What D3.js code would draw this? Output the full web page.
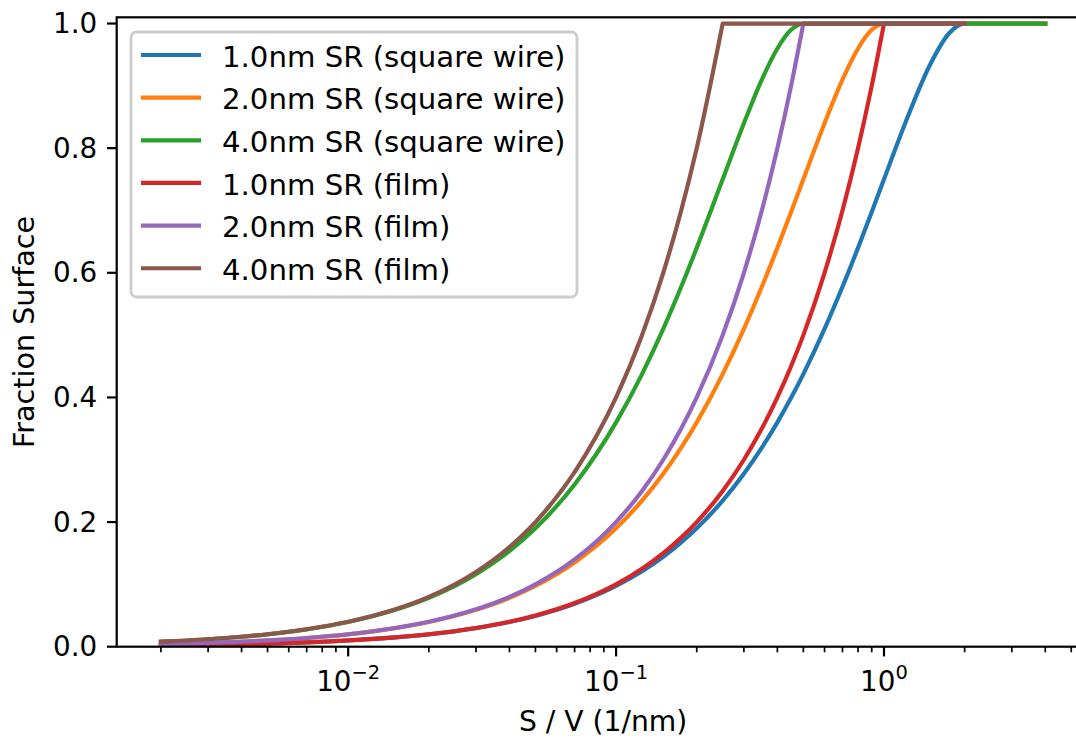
<!DOCTYPE html>
<html><head><meta charset="utf-8">
<script src="https://cdn.jsdelivr.net/npm/d3@7"></script>
<style>
body{margin:0;background:#fff}
svg{display:block}
text{font-family:"DejaVu Sans",sans-serif;fill:#000}
</style>
</head><body><svg id="chart" width="1076" height="738"></svg>
<script>
// ---- data ----
const svRatio = [0.002,0.003,0.004,0.005,0.007,0.01,0.015,0.02,0.03,0.04,0.05,0.07,0.1,0.125,0.15,0.175,0.2,0.25,0.3,0.35,0.4,0.45,0.5,0.6,0.7,0.8,0.9,1.0,1.2,1.5,1.75,2.0,3.0,4.0];

const wire1nm = [0.001999,0.002998,0.003996,0.004994,0.006988,0.009975,0.014944,0.0199,0.029775,0.0396,0.049375,0.068775,0.0975,0.121094,0.144375,0.167344,0.19,0.234375,0.2775,0.319375,0.36,0.399375,0.4375,0.51,0.5775,0.64,0.6975,0.75,0.84,0.9375,0.984375,1,1,1];
const wire2nm = [0.003996,0.005991,0.007984,0.009975,0.013951,0.0199,0.029775,0.0396,0.0591,0.0784,0.0975,0.1351,0.19,0.234375,0.2775,0.319375,0.36,0.4375,0.51,0.5775,0.64,0.6975,0.75,0.84,0.91,0.96,0.99,1,1,1,1,1,1,1];
const wire4nm = [0.007984,0.011964,0.015936,0.0199,0.027804,0.0396,0.0591,0.0784,0.1164,0.1536,0.19,0.2604,0.36,0.4375,0.51,0.5775,0.64,0.75,0.84,0.91,0.96,0.99,1,1,1,1,1,1,1,1,1,1,1,1];
const film1nm = [0.002,0.003,0.004,0.005,0.007,0.01,0.015,0.02,0.03,0.04,0.05,0.07,0.1,0.125,0.15,0.175,0.2,0.25,0.3,0.35,0.4,0.45,0.5,0.6,0.7,0.8,0.9,1.0,1,1,1,1,null,null];
const film2nm = [0.004,0.006,0.008,0.01,0.014,0.02,0.03,0.04,0.06,0.08,0.1,0.14,0.2,0.25,0.3,0.35,0.4,0.5,0.6,0.7,0.8,0.9,1,1,1,1,1,1,1,1,1,1,null,null];
const film4nm = [0.008,0.012,0.016,0.02,0.028,0.04,0.06,0.08,0.12,0.16,0.2,0.28,0.4,0.5,0.6,0.7,0.8,1,1,1,1,1,1,1,1,1,1,1,1,1,1,1,null,null];

const seriesLabels = ["1.0nm SR (square wire)","2.0nm SR (square wire)","4.0nm SR (square wire)","1.0nm SR (film)","2.0nm SR (film)","4.0nm SR (film)"];
const seriesValues = [wire1nm, wire2nm, wire4nm, film1nm, film2nm, film4nm];
const seriesIsFilm = [false,false,false,true,true,true];
const seriesColors = ["#1f77b4","#ff7f0e","#2ca02c","#d62728","#9467bd","#8c564b"];

const yTicks = [0.0,0.2,0.4,0.6,0.8,1.0];
const xMajorTicks = [0.01,0.1,1];
const xMajorExponents = ["\u22122","\u22121","0"];
const xLabel = "S / V (1/nm)";
const yLabel = "Fraction Surface";

// ---- layout ----
const W = 1076, H = 738;
const plot = {left:116.7, right:1089.5, top:17.3, bottom:646.7};
const FS = 27.8;
const LW = 4.2;

const svg = d3.select("#chart");

const lo = Math.log10(d3.min(svRatio)), hi = Math.log10(d3.max(svRatio));
const m = 0.05*(hi-lo);
const x = d3.scaleLog().domain([Math.pow(10,lo-m), Math.pow(10,hi+m)]).range([plot.left, plot.right]);
const y = d3.scaleLinear().domain([0,1.01]).range([plot.bottom, plot.top]);

svg.append("defs").append("clipPath").attr("id","clip")
  .append("rect").attr("x",plot.left).attr("y",plot.top)
  .attr("width",plot.right-plot.left).attr("height",plot.bottom-plot.top);

// ---- lines ----
const gLines = svg.append("g").attr("clip-path","url(#clip)");
const lineMono = d3.line().x(d=>x(d[0])).y(d=>y(d[1])).curve(d3.curveMonotoneX);
const lineLin = d3.line().x(d=>x(d[0])).y(d=>y(d[1]));
seriesValues.forEach((vals,si)=>{
  const pts = svRatio.map((v,i)=>[v, vals[i]]).filter(p=>p[1]!==null);
  let d;
  if (seriesIsFilm[si]) {
    const k = pts.findIndex(p=>p[1]>=1);
    d = lineMono(pts.slice(0,k+1)) + "L" + lineLin(pts.slice(k)).slice(1);
  } else {
    d = lineMono(pts);
  }
  gLines.append("path").attr("d",d).attr("fill","none")
    .attr("stroke",seriesColors[si]).attr("stroke-width",LW)
    .attr("stroke-linecap","square").attr("stroke-linejoin","round");
});

// ---- axes ----
const axisStroke = 2.2;
svg.append("rect").attr("x",plot.left).attr("y",plot.top)
  .attr("width",plot.right-plot.left).attr("height",plot.bottom-plot.top)
  .attr("fill","none").attr("stroke","#000").attr("stroke-width",axisStroke);

const gy = svg.append("g");
yTicks.forEach(t=>{
  gy.append("line").attr("x1",plot.left-9.7).attr("x2",plot.left)
    .attr("y1",y(t)).attr("y2",y(t)).attr("stroke","#000").attr("stroke-width",axisStroke);
  gy.append("text").attr("x",plot.left-9.7-9.7).attr("y",y(t))
    .attr("text-anchor","end").attr("dominant-baseline","central")
    .style("font-size",FS+"px").text(d3.format(".1f")(t));
});

const gx = svg.append("g");
const dom = x.domain();
const minorTicks = [];
for (let e=-4;e<=1;e++) for (let k=2;k<=9;k++){
  const v = k*Math.pow(10,e);
  if (v>=dom[0] && v<=dom[1]) minorTicks.push(v);
}
minorTicks.forEach(t=>{
  gx.append("line").attr("x1",x(t)).attr("x2",x(t))
    .attr("y1",plot.bottom).attr("y2",plot.bottom+5.6)
    .attr("stroke","#000").attr("stroke-width",1.7);
});
xMajorTicks.forEach((t,i)=>{
  gx.append("line").attr("x1",x(t)).attr("x2",x(t))
    .attr("y1",plot.bottom).attr("y2",plot.bottom+9.7)
    .attr("stroke","#000").attr("stroke-width",axisStroke);
  const txt = gx.append("text").attr("x",x(t)).attr("y",691)
    .attr("text-anchor","middle").style("font-size",FS+"px");
  txt.append("tspan").text("10");
  txt.append("tspan").attr("dy",-12).style("font-size",(FS*0.7)+"px").text(xMajorExponents[i]);
});

svg.append("text").attr("x",(plot.left+plot.right)/2).attr("y",731)
  .attr("text-anchor","middle").style("font-size","28.2px").text(xLabel);
svg.append("text").attr("transform",`translate(33.5,${(plot.top+plot.bottom)/2}) rotate(-90)`)
  .attr("text-anchor","middle").style("font-size","28.6px").text(yLabel);

// ---- legend ----
const LFS = 29.2;
const lg = svg.append("g");
lg.append("rect").attr("x",131).attr("y",32).attr("width",446).attr("height",265)
  .attr("rx",5.6).attr("fill","#fff").attr("fill-opacity",0.8)
  .attr("stroke","#cccccc").attr("stroke-width",2.8);
seriesLabels.forEach((lab,i)=>{
  const cy = 55 + i*42.65;
  lg.append("line").attr("x1",143).attr("x2",199).attr("y1",cy).attr("y2",cy)
    .attr("stroke",seriesColors[i]).attr("stroke-width",LW).attr("stroke-linecap","square");
  lg.append("text").attr("x",222).attr("y",cy+11.6).style("font-size",LFS+"px").text(lab);
});
</script>
</body></html>
